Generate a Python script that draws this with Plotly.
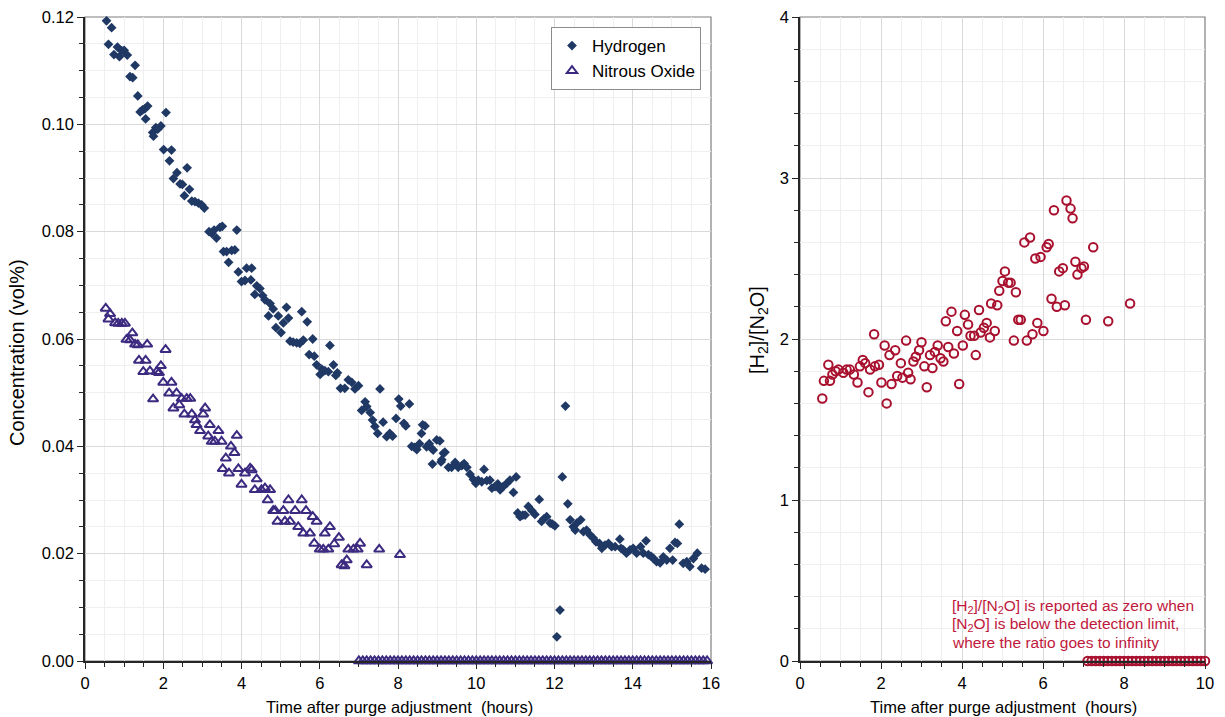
import plotly.graph_objects as go

# ---------------- data ----------------
h2_t = [0.55, 0.60, 0.68, 0.74, 0.83, 0.88, 0.94, 1.00, 1.08, 1.15, 1.22, 1.28, 1.35, 1.41, 1.47,
        1.53, 1.55, 1.60, 1.73, 1.75, 1.81, 1.86, 1.94, 2.01, 2.07, 2.16, 2.21, 2.26, 2.35, 2.43,
        2.49, 2.54, 2.61, 2.67, 2.73, 2.81, 2.90, 2.98, 3.05, 3.17, 3.24, 3.30, 3.36, 3.45, 3.51,
        3.54, 3.62, 3.67, 3.75, 3.83, 3.88, 3.92, 4.00, 4.09, 4.13, 4.24, 4.26, 4.34, 4.39, 4.47,
        4.54, 4.60, 4.69, 4.73, 4.81, 4.88, 4.94, 5.01, 5.07, 5.15, 5.20, 5.24, 5.32, 5.41, 5.49,
        5.54, 5.58, 5.68, 5.73, 5.82, 5.86, 5.92, 6.01, 6.05, 6.13, 6.22, 6.26, 6.35, 6.41, 6.45,
        6.53, 6.64, 6.73, 6.82, 6.90, 6.99, 7.07, 7.16, 7.20, 7.29, 7.35, 7.41, 7.48, 7.54, 7.62,
        7.71, 7.79, 7.86, 7.95, 8.02, 8.07, 8.15, 8.20, 8.29, 8.35, 8.42, 8.48, 8.55, 8.60, 8.63,
        8.69, 8.73, 8.80, 8.86, 8.88, 8.90, 8.99, 9.07, 9.10, 9.12, 9.16, 9.20, 9.29, 9.37, 9.46,
        9.54, 9.63, 9.69, 9.76, 9.84, 9.93, 9.99, 10.05, 10.14, 10.20, 10.27, 10.35, 10.40, 10.48,
        10.55, 10.61, 10.69, 10.78, 10.86, 10.95, 11.02, 11.06, 11.12, 11.19, 11.25, 11.33, 11.42,
        11.50, 11.61, 11.67, 11.73, 11.80, 11.89, 11.95, 12.01, 12.06, 12.14, 12.20, 12.28, 12.34,
        12.40, 12.48, 12.53, 12.57, 12.67, 12.74, 12.82, 12.91, 12.99, 13.06, 13.15, 13.21, 13.29,
        13.38, 13.46, 13.55, 13.67, 13.70, 13.76, 13.84, 13.93, 14.01, 14.10, 14.20, 14.27, 14.34,
        14.40, 14.47, 14.53, 14.61, 14.70, 14.78, 14.87, 14.95, 15.02, 15.08, 15.14, 15.19, 15.29,
        15.38, 15.46, 15.55, 15.65, 15.76, 15.85]
h2_c = [0.1193, 0.1149, 0.1180, 0.1130, 0.1144, 0.1126, 0.1137, 0.1138, 0.1129, 0.1089, 0.1087, 0.1110, 0.1053, 0.1023, 0.1027,
        0.1029, 0.1010, 0.1034, 0.0985, 0.0978, 0.0994, 0.0991, 0.0997, 0.0953, 0.1022, 0.0932, 0.0952, 0.0899, 0.0910, 0.0889,
        0.0888, 0.0867, 0.0919, 0.0879, 0.0857, 0.0856, 0.0853, 0.0850, 0.0844, 0.0800, 0.0797, 0.0803, 0.0788, 0.0808, 0.0810,
        0.0763, 0.0763, 0.0743, 0.0765, 0.0766, 0.0803, 0.0725, 0.0707, 0.0709, 0.0732, 0.0710, 0.0732, 0.0683, 0.0699, 0.0694,
        0.0681, 0.0673, 0.0643, 0.0666, 0.0656, 0.0621, 0.0643, 0.0612, 0.0630, 0.0659, 0.0639, 0.0596, 0.0594, 0.0593, 0.0592,
        0.0651, 0.0598, 0.0632, 0.0571, 0.0600, 0.0568, 0.0552, 0.0534, 0.0544, 0.0541, 0.0539, 0.0588, 0.0552, 0.0532, 0.0537,
        0.0508, 0.0508, 0.0524, 0.0519, 0.0507, 0.0513, 0.0467, 0.0483, 0.0474, 0.0463, 0.0449, 0.0437, 0.0424, 0.0507, 0.0445,
        0.0418, 0.0424, 0.0419, 0.0452, 0.0488, 0.0475, 0.0443, 0.0438, 0.0479, 0.0400, 0.0398, 0.0394, 0.0405, 0.0424, 0.0440,
        0.0438, 0.0399, 0.0405, 0.0396, 0.0367, 0.0393, 0.0412, 0.0410, 0.0371, 0.0375, 0.0387, 0.0389, 0.0361, 0.0361, 0.0370,
        0.0361, 0.0364, 0.0368, 0.0361, 0.0348, 0.0338, 0.0331, 0.0337, 0.0334, 0.0357, 0.0336, 0.0337, 0.0322, 0.0325,
        0.0330, 0.0319, 0.0325, 0.0331, 0.0337, 0.0314, 0.0343, 0.0276, 0.0269, 0.0272, 0.0272, 0.0288, 0.0280,
        0.0273, 0.0301, 0.0260, 0.0265, 0.0269, 0.0257, 0.0255, 0.0252, 0.0045, 0.0095, 0.0343, 0.0475, 0.0293,
        0.0263, 0.0250, 0.0244, 0.0257, 0.0263, 0.0241, 0.0244, 0.0235, 0.0229, 0.0222, 0.0219, 0.0210, 0.0216,
        0.0219, 0.0213, 0.0213, 0.0227, 0.0210, 0.0207, 0.0201, 0.0207, 0.0210, 0.0201, 0.0213, 0.0201, 0.0224,
        0.0198, 0.0195, 0.0191, 0.0185, 0.0183, 0.0194, 0.0188, 0.0210, 0.0188, 0.0221, 0.0219, 0.0255, 0.0182,
        0.0185, 0.0176, 0.0191, 0.0201, 0.0173, 0.0171]

n2o_t = [0.53, 0.60, 0.64, 0.77, 0.85, 0.94, 1.02, 1.06, 1.15, 1.21, 1.28, 1.35, 1.38, 1.49, 1.55,
         1.59, 1.66, 1.74, 1.83, 1.89, 1.94, 2.00, 2.06, 2.15, 2.21, 2.26, 2.34, 2.41, 2.47, 2.54,
         2.60, 2.69, 2.73, 2.81, 2.85, 2.94, 3.02, 3.07, 3.15, 3.19, 3.24, 3.32, 3.41, 3.49, 3.52,
         3.60, 3.68, 3.73, 3.82, 3.88, 3.92, 4.00, 4.09, 4.22, 4.26, 4.34, 4.39, 4.51, 4.60, 4.67,
         4.73, 4.81, 4.86, 4.92, 5.07, 5.11, 5.20, 5.24, 5.37, 5.45, 5.54, 5.58, 5.65, 5.75, 5.82,
         5.86, 5.92, 6.00, 6.09, 6.13, 6.22, 6.26, 6.37, 6.49, 6.56, 6.63, 6.69, 6.73, 6.86, 6.97,
         7.03, 7.20, 7.52, 8.05]
n2o_c = [0.0657, 0.0637, 0.0647, 0.0630, 0.0629, 0.0629, 0.0629, 0.0599, 0.0598, 0.0611, 0.0590, 0.0589, 0.0560, 0.0539, 0.0560,
         0.0590, 0.0540, 0.0488, 0.0539, 0.0537, 0.0550, 0.0519, 0.0580, 0.0499, 0.0519, 0.0471, 0.0499, 0.0477, 0.0489, 0.0460,
         0.0489, 0.0489, 0.0460, 0.0449, 0.0440, 0.0429, 0.0460, 0.0471, 0.0419, 0.0440, 0.0409, 0.0409, 0.0429, 0.0409, 0.0358,
         0.0378, 0.0350, 0.0400, 0.0388, 0.0420, 0.0358, 0.0329, 0.0350, 0.0359, 0.0356, 0.0319, 0.0339, 0.0319, 0.0322, 0.0300,
         0.0319, 0.0280, 0.0280, 0.0260, 0.0280, 0.0260, 0.0300, 0.0260, 0.0280, 0.0250, 0.0300, 0.0238, 0.0280, 0.0238, 0.0269,
         0.0219, 0.0260, 0.0208, 0.0208, 0.0238, 0.0208, 0.0250, 0.0218, 0.0230, 0.0179, 0.0177, 0.0188, 0.0208, 0.0208, 0.0208,
         0.0219, 0.0179, 0.0208, 0.0198]

n2o_zero_t = [7.0, 7.1, 7.2, 7.3, 7.4, 7.5, 7.6, 7.7, 7.8, 7.9, 8.0, 8.1, 8.2, 8.3, 8.4, 8.5, 8.6, 8.7, 8.8, 8.9,
              9.0, 9.1, 9.2, 9.3, 9.4, 9.5, 9.6, 9.7, 9.8, 9.9, 10.0, 10.1, 10.2, 10.3, 10.4, 10.5, 10.6, 10.7,
              10.8, 10.9, 11.0, 11.1, 11.2, 11.3, 11.4, 11.5, 11.6, 11.7, 11.8, 11.9, 12.0, 12.1, 12.2, 12.3,
              12.4, 12.5, 12.6, 12.7, 12.8, 12.9, 13.0, 13.1, 13.2, 13.3, 13.4, 13.5, 13.6, 13.7, 13.8, 13.9,
              14.0, 14.1, 14.2, 14.3, 14.4, 14.5, 14.6, 14.7, 14.8, 14.9, 15.0, 15.1, 15.2, 15.3, 15.4, 15.5,
              15.6, 15.7, 15.8, 15.9]
n2o_zero_c = [0.0] * len(n2o_zero_t)

ratio_t = [0.55, 0.59, 0.70, 0.74, 0.80, 0.88, 0.95, 1.07, 1.15, 1.23, 1.33, 1.42, 1.48, 1.55, 1.61,
           1.69, 1.73, 1.83, 1.85, 1.95, 2.01, 2.09, 2.14, 2.21, 2.26, 2.35, 2.40, 2.49, 2.53, 2.62,
           2.67, 2.73, 2.80, 2.86, 2.94, 3.00, 3.07, 3.13, 3.21, 3.27, 3.33, 3.40, 3.47, 3.54, 3.60,
           3.66, 3.74, 3.80, 3.88, 3.93, 4.02, 4.07, 4.15, 4.21, 4.30, 4.34, 4.42, 4.46, 4.54, 4.61,
           4.69, 4.72, 4.81, 4.87, 4.92, 5.00, 5.06, 5.14, 5.20, 5.28, 5.33, 5.39, 5.45, 5.54, 5.60,
           5.68, 5.74, 5.81, 5.86, 5.94, 6.01, 6.09, 6.14, 6.21, 6.27, 6.34, 6.40, 6.49, 6.54, 6.58,
           6.68, 6.73, 6.80, 6.85, 6.95, 7.01, 7.06, 7.24, 7.61, 8.15]
ratio_v = [1.63, 1.74, 1.84, 1.74, 1.78, 1.80, 1.81, 1.79, 1.81, 1.81, 1.78, 1.73, 1.83, 1.87, 1.85,
           1.67, 1.81, 2.03, 1.83, 1.84, 1.73, 1.96, 1.60, 1.90, 1.72, 1.93, 1.77, 1.85, 1.76, 1.99,
           1.79, 1.75, 1.86, 1.89, 1.93, 1.98, 1.83, 1.70, 1.90, 1.82, 1.92, 1.96, 1.88, 1.86, 2.11,
           1.95, 2.17, 1.91, 2.05, 1.72, 1.96, 2.15, 2.09, 2.02, 2.02, 1.90, 2.18, 2.04, 2.07, 2.10,
           2.01, 2.22, 2.05, 2.21, 2.30, 2.36, 2.42, 2.35, 2.35, 1.99, 2.29, 2.12, 2.12, 2.60, 1.99,
           2.63, 2.03, 2.50, 2.10, 2.51, 2.05, 2.57, 2.59, 2.25, 2.80, 2.20, 2.42, 2.44, 2.21, 2.86,
           2.81, 2.75, 2.48, 2.40, 2.44, 2.45, 2.12, 2.57, 2.11, 2.22]

ratio_zero_t = [7.1, 7.2, 7.3, 7.4, 7.5, 7.6, 7.7, 7.8, 7.9, 8.0, 8.1, 8.2, 8.3, 8.4, 8.5, 8.6, 8.7, 8.8,
                8.9, 9.0, 9.1, 9.2, 9.3, 9.4, 9.5, 9.6, 9.7, 9.8, 9.9, 10.0]
ratio_zero_v = [0.0] * len(ratio_zero_t)

# ---------------- styling ----------------
W, H = 1225, 717
FONT = "Liberation Sans, Arial, sans-serif"
C_H2 = "#1f3864"
C_N2O = "#3c2a80"
C_RATIO = "#a8102e"
C_NOTE = "#c0183c"
MAJOR_GRID = "#d9d9d9"
MINOR_GRID = "#efefef"


def px(x):
    return x / W


def py(y):
    return 1 - y / H


fig = go.Figure()

fig.add_trace(go.Scatter(x=h2_t, y=h2_c, mode="markers", name="Hydrogen",
                         marker=dict(symbol="diamond", size=7.5, color=C_H2),
                         xaxis="x", yaxis="y", cliponaxis=False))
fig.add_trace(go.Scatter(x=n2o_t, y=n2o_c, mode="markers", name="Nitrous Oxide",
                         marker=dict(symbol="triangle-up-open", size=9, color=C_N2O,
                                     line=dict(width=2, color=C_N2O)),
                         xaxis="x", yaxis="y", cliponaxis=False, legendgroup="n2o"))
fig.add_trace(go.Scatter(x=n2o_zero_t, y=n2o_zero_c, mode="markers", name="Nitrous Oxide",
                         marker=dict(symbol="triangle-up-open", size=9, color=C_N2O,
                                     line=dict(width=2, color=C_N2O)),
                         xaxis="x", yaxis="y", cliponaxis=False, legendgroup="n2o",
                         showlegend=False))
fig.add_trace(go.Scatter(x=ratio_t, y=ratio_v, mode="markers", name="ratio",
                         marker=dict(symbol="circle-open", size=8.5, color=C_RATIO,
                                     line=dict(width=2, color=C_RATIO)),
                         xaxis="x2", yaxis="y2", cliponaxis=False, showlegend=False))
fig.add_trace(go.Scatter(x=ratio_zero_t, y=ratio_zero_v, mode="markers", name="ratio0",
                         marker=dict(symbol="circle-open", size=8.5, color=C_RATIO,
                                     line=dict(width=2, color=C_RATIO)),
                         xaxis="x2", yaxis="y2", cliponaxis=False, showlegend=False))

tickfont = dict(family=FONT, size=16.5, color="#000000")


def xaxis(domain, rng, anchor):
    return dict(domain=domain, range=rng, anchor=anchor, dtick=2, tick0=0,
                automargin=False,
                showgrid=True, gridcolor=MAJOR_GRID, gridwidth=1,
                ticks="outside", ticklen=6, tickwidth=1, tickcolor="#262626",
                showline=True, linecolor="#262626", linewidth=1.5,
                zeroline=False, tickfont=tickfont,
                minor=dict(dtick=0.5, tick0=0, showgrid=True, gridcolor=MINOR_GRID,
                           ticks="outside", ticklen=4, tickcolor="#262626"))


def yaxis(domain, rng, anchor, dtick, mdtick, fmt):
    return dict(domain=domain, range=rng, anchor=anchor, dtick=dtick, tick0=0,
                automargin=False,
                tickformat=fmt, showgrid=True, gridcolor=MAJOR_GRID, gridwidth=1,
                ticks="outside", ticklen=6, tickwidth=1, tickcolor="#262626",
                showline=True, linecolor="#262626", linewidth=1.5,
                zeroline=False, tickfont=tickfont,
                minor=dict(dtick=mdtick, tick0=0, showgrid=True, gridcolor=MINOR_GRID,
                           ticks="outside", ticklen=4, tickcolor="#262626"))


ydom = [py(661), py(17)]
fig.update_layout(
    width=W, height=H,
    margin=dict(l=0, r=0, t=0, b=0, autoexpand=False),
    paper_bgcolor="white", plot_bgcolor="white",
    font=dict(family=FONT, color="#000000"),
    xaxis=xaxis([px(85), px(711)], [0, 16], "y"),
    yaxis=yaxis(ydom, [0, 0.12], "x", 0.02, 0.005, ".2f"),
    xaxis2=xaxis([px(800), px(1205)], [0, 10], "y2"),
    yaxis2=yaxis(ydom, [0, 4], "x2", 1, 0.2, "d"),
    legend=dict(x=px(701), y=py(27), xanchor="right", yanchor="top",
                bgcolor="white", bordercolor="#8c8c8c", borderwidth=1,
                font=dict(family=FONT, size=17, color="#000000"),
                itemwidth=30, tracegroupgap=0),
    showlegend=True,
)

# plot frames (top/right gray borders)
for xr, yr in (("x domain", "y domain"), ("x2 domain", "y2 domain")):
    fig.add_shape(type="rect", xref=xr, yref=yr, x0=0, x1=1, y0=0, y1=1,
                  line=dict(color="#7f7f7f", width=1.2), layer="below")

annots = [
    dict(text="Concentration (vol%)", x=px(17), y=py(353), textangle=-90, size=20),
    dict(text="[H<sub>2</sub>]/[N<sub>2</sub>O]", x=px(758), y=py(330), textangle=-90, size=20),
    dict(text="Time after purge adjustment  (hours)", x=px(400), y=py(707), textangle=0, size=16.5),
    dict(text="Time after purge adjustment  (hours)", x=px(1003), y=py(707), textangle=0, size=16.5),
]
for a in annots:
    fig.add_annotation(text=a["text"], x=a["x"], y=a["y"], xref="paper", yref="paper",
                       xanchor="center", yanchor="middle", showarrow=False,
                       textangle=a["textangle"],
                       font=dict(family=FONT, size=a["size"], color="#000000"))

note_lines = [
    ("[H<sub>2</sub>]/[N<sub>2</sub>O] is reported as zero when", 606),
    ("[N<sub>2</sub>O] is below the detection limit,", 624),
    ("where the ratio goes to infinity", 642),
]
for txt, yy in note_lines:
    fig.add_annotation(text=txt, x=px(950), y=py(yy), xref="paper", yref="paper",
                       xanchor="left", yanchor="middle", showarrow=False,
                       font=dict(family=FONT, size=15.5, color=C_NOTE))

fig.write_html("out.html")
